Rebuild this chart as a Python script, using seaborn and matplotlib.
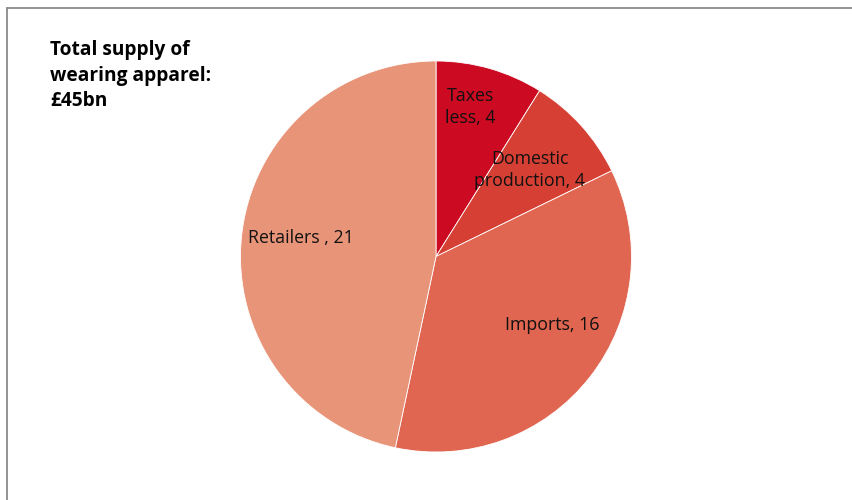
import matplotlib
matplotlib.use("Agg")
import matplotlib.pyplot as plt
from matplotlib.lines import Line2D
import seaborn as sns

# Supply of wearing apparel, £bn
categories = ["Taxes\nless", "Domestic\nproduction", "Imports", "Retailers "]
values = [4, 4, 16, 21]
colors = ["#CC0A22", "#D64034", "#E06651", "#E89478"]
title_text = "Total supply of\nwearing apparel:\n£45bn"

# label anchor positions inside the unit pie (x, y)
label_pos = [(0.174, 0.765), (0.48, 0.442), (0.593, -0.35), (-0.69, 0.095)]

sns.set_theme(style="white")
plt.rcParams["font.family"] = ["Open Sans", "DejaVu Sans"]

W, H = 852, 500
fig = plt.figure(figsize=(W / 100, H / 100), dpi=100)
fig.patch.set_facecolor("white")

cx, cy, r = 436, 256.5, 195.5
ax = fig.add_axes([(cx - r) / W, (H - cy - r) / H, 2 * r / W, 2 * r / H])
ax.pie(values, colors=colors, startangle=90, counterclock=False, radius=1,
       wedgeprops=dict(edgecolor="white", linewidth=0.6))
ax.set_xlim(-1, 1)
ax.set_ylim(-1, 1)
ax.set_aspect("equal")
ax.axis("off")

for cat, val, (x, y) in zip(categories, values, label_pos):
    ax.text(x, y, f"{cat}, {val}", ha="center", va="center",
            fontsize=12.8, color="#111111", linespacing=1.25)

fig.text(50 / W, 1 - 40 / H, title_text, ha="left", va="top",
         fontsize=13.8, fontweight="bold", color="black", linespacing=1.38)

# chart frame: top and left rules
fig.add_artist(Line2D([6.5 / W, 1], [1 - 7.5 / H, 1 - 7.5 / H],
                      transform=fig.transFigure, color="#8a8a8a", linewidth=1.3))
fig.add_artist(Line2D([6.5 / W, 6.5 / W], [0, 1 - 7.5 / H],
                      transform=fig.transFigure, color="#8a8a8a", linewidth=1.3))

fig.savefig("out.png", dpi=100, facecolor="white")
